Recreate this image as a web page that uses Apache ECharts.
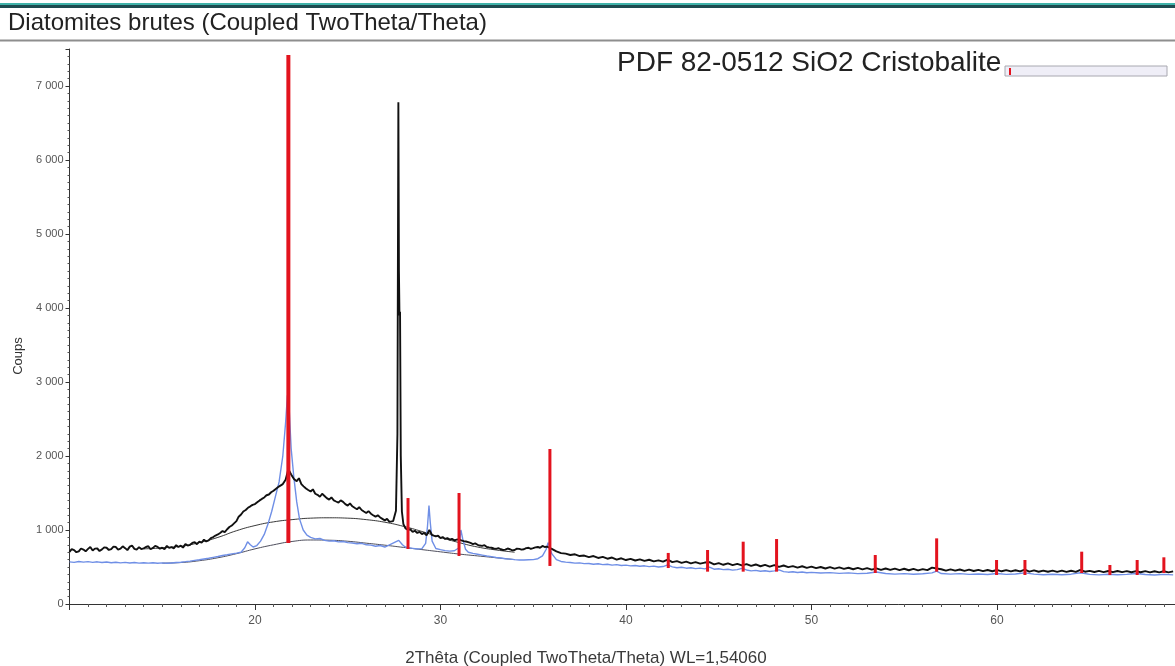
<!DOCTYPE html>
<html>
<head>
<meta charset="utf-8">
<script src="https://cdn.jsdelivr.net/npm/echarts@6/dist/echarts.min.js"></script>
<style>
html,body{margin:0;padding:0;background:#fff;}
#chart{width:1175px;height:666px;}
</style>
</head>
<body>
<div id="chart"></div>
<script>
// ---- Data (2Theta in degrees, intensity in counts) ----
const blackScan = [
[10,705],[10.12,742],[10.25,728],[10.37,700],[10.5,712],[10.62,750],[10.75,735],[10.87,712],[11,745],[11.12,770],[11.25,722],[11.37,748],
[11.5,750],[11.62,716],[11.75,738],[11.87,765],[12,760],[12.12,730],[12.25,742],[12.37,775],[12.5,770],[12.62,735],[12.75,748],[12.87,780],
[13,755],[13.12,728],[13.25,775],[13.37,790],[13.5,745],[13.62,735],[13.75,768],[13.87,742],[14,752],[14.12,770],[14.25,780],[14.37,740],
[14.5,758],[14.62,785],[14.75,772],[14.87,748],[15,760],[15.12,742],[15.25,785],[15.37,758],[15.5,770],[15.62,752],[15.75,795],[15.87,770],
[16,788],[16.12,762],[16.25,812],[16.37,790],[16.5,800],[16.62,825],[16.75,835],[16.87,808],[17,842],[17.12,828],[17.25,870],[17.37,845],
[17.5,860],[17.62,890],[17.75,905],[17.87,925],[18,940],[18.12,960],[18.25,985],[18.37,970],[18.5,1010],[18.62,1040],[18.75,1060],[18.87,1090],
[19,1120],[19.12,1180],[19.25,1210],[19.37,1250],[19.5,1270],[19.62,1300],[19.75,1320],[19.87,1340],[20,1350],[20.12,1375],[20.25,1400],
[20.37,1420],[20.5,1440],[20.62,1470],[20.75,1480],[20.87,1510],[21,1530],[21.12,1555],[21.25,1580],[21.37,1600],[21.5,1620],
[21.65,1680],[21.8,1820],[21.95,1750],[22.1,1690],[22.25,1660],[22.37,1700],[22.5,1620],[22.62,1590],[22.75,1560],[22.87,1540],[23,1520],
[23.12,1550],[23.25,1490],[23.37,1475],[23.5,1450],[23.62,1490],[23.75,1460],[23.87,1430],[24,1410],[24.12,1440],[24.25,1400],[24.37,1385],
[24.5,1370],[24.62,1400],[24.75,1380],[24.87,1350],[25,1330],[25.12,1360],[25.25,1320],[25.37,1300],[25.5,1280],[25.62,1310],[25.75,1270],
[25.87,1250],[26,1230],[26.12,1255],[26.25,1220],[26.37,1200],[26.5,1180],[26.62,1200],[26.75,1170],[26.87,1150],[27,1130],[27.12,1150],
[27.25,1110],[27.35,1100],[27.45,1120],[27.6,1260],[27.68,2300],[27.73,6780],[27.76,4500],[27.79,3900],[27.82,3950],
[27.86,2000],[27.92,1250],[28,1080],[28.12,1020],[28.25,1000],[28.37,1010],[28.5,975],[28.62,990],[28.75,960],[28.87,975],[29,945],[29.12,960],
[29.25,930],[29.4,1000],[29.55,930],[29.65,945],[29.75,915],[29.87,925],[30,890],[30.12,905],[30.25,880],[30.37,890],[30.5,870],[30.62,880],
[30.75,860],[30.87,870],[31,875],[31.12,860],[31.25,850],[31.37,845],[31.5,835],[31.62,825],[31.75,810],[31.87,820],[32,800],[32.12,790],
[32.25,785],[32.37,795],[32.5,770],[32.62,765],[32.75,760],[32.87,750],[33,745],[33.12,755],[33.25,740],[33.37,730],[33.5,735],[33.62,750],
[33.75,740],[33.87,725],[34,730],[34.12,748],[34.25,745],[34.37,735],[34.5,740],[34.62,755],[34.75,760],[34.87,745],[35,755],[35.12,765],
[35.25,770],[35.37,760],[35.5,785],[35.62,770],[35.75,775],[35.87,760],
[36,745],[36.25,712],[36.5,688],[36.75,680],[37,662],[37.25,672],[37.5,648],[37.75,655],[38,634],[38.25,648],[38.5,622],[38.75,636],
[39,612],[39.25,628],[39.5,600],[39.75,618],[40,594],[40.25,610],[40.5,588],[40.75,604],[41,582],[41.25,598],[41.5,576],[41.75,590],
[42,572],[42.25,600],[42.5,566],[42.75,580],[43,556],[43.25,572],[43.5,550],[43.75,566],[44,546],[44.25,560],[44.5,565],[44.75,535],
[45,552],[45.25,530],[45.5,548],[45.75,525],[46,542],[46.25,522],[46.5,540],[46.75,515],[47,534],[47.25,510],[47.5,528],[47.75,505],
[48,525],[48.25,502],[48.5,520],[48.75,498],[49,512],[49.25,492],[49.5,510],[49.75,488],[50,505],[50.25,484],[50.5,500],[50.75,480],
[51,498],[51.25,478],[51.5,494],[51.75,474],[52,490],[52.25,470],[52.5,488],[52.75,468],[53,484],[53.25,464],[53.5,482],[53.75,462],
[54,480],[54.25,460],[54.5,478],[54.75,458],[55,476],[55.25,456],[55.5,474],[55.75,455],[56,472],[56.25,458],[56.5,492],[56.75,480],
[57,470],[57.25,452],[57.5,468],[57.75,450],[58,466],[58.25,448],[58.5,464],[58.75,446],[59,462],[59.25,444],[59.5,460],[59.75,443],
[60,460],[60.25,442],[60.5,458],[60.75,440],[61,456],[61.25,440],[61.5,466],[61.75,438],[62,454],[62.25,436],[62.5,452],[62.75,436],
[63,451],[63.25,435],[63.5,450],[63.75,434],[64,449],[64.25,434],[64.5,462],[64.75,436],[65,448],[65.25,432],[65.5,447],[65.75,431],
[66,446],[66.25,430],[66.5,446],[66.75,430],[67,445],[67.25,429],[67.5,444],[67.75,429],[68,444],[68.25,428],[68.5,443],[68.75,428],
[69,442],[69.25,428],[69.5,440]
];

const blueScan = [
[10,570],[10.25,562],[10.5,575],[10.75,566],[11,572],[11.25,563],[11.5,570],[11.75,560],[12,568],[12.25,558],[12.5,565],[12.75,556],
[13,562],[13.25,555],[13.5,560],[13.75,553],[14,558],[14.25,552],[14.5,557],[14.75,550],[15,556],[15.25,550],[15.5,555],[15.75,560],
[16,565],[16.25,572],[16.5,580],[16.75,590],[17,598],[17.25,608],[17.5,618],[17.75,630],[18,642],[18.25,655],[18.5,665],[18.75,678],
[19,688],[19.25,700],[19.45,760],[19.6,840],[19.75,800],[19.9,770],[20.1,790],[20.3,850],[20.5,940],[20.7,1080],[20.9,1250],
[21.1,1450],[21.3,1650],[21.5,2000],[21.65,2450],[21.75,2820],[21.85,2600],[21.95,2100],[22.1,1700],[22.25,1380],[22.4,1150],
[22.6,1000],[22.8,930],[23,900],[23.25,880],[23.5,885],[23.75,860],[24,850],[24.25,855],[24.5,840],[24.75,845],[25,830],[25.25,825],
[25.5,815],[25.75,820],[26,800],[26.25,795],[26.5,780],[26.75,790],[27,770],[27.25,800],[27.5,830],[27.75,860],[27.95,800],
[28.1,770],[28.25,760],[28.5,752],[28.75,744],[29,748],[29.2,820],[29.3,1050],[29.38,1330],[29.45,1100],[29.55,850],[29.75,750],
[30,735],[30.25,722],[30.5,714],[30.75,720],[31,760],[31.1,1000],[31.2,880],[31.35,740],[31.5,700],[31.75,684],[32,672],[32.25,660],
[32.5,648],[32.75,640],[33,628],[33.25,622],[33.5,612],[33.75,606],[34,600],[34.25,595],[34.5,594],[34.75,598],[35,600],[35.25,612],
[35.5,650],[35.7,740],[35.8,830],[35.9,760],[36,680],[36.25,600],[36.5,575],[36.75,566],[37,560],[37.25,552],[37.5,556],[37.75,545],
[38,548],[38.25,538],[38.5,544],[38.75,532],[39,538],[39.25,526],[39.5,532],[39.75,520],[40,526],[40.25,515],[40.5,520],[40.75,510],
[41,516],[41.25,505],[41.5,512],[41.75,500],[42,506],[42.25,528],[42.5,502],[42.75,490],[43,496],[43.25,484],[43.5,490],[43.75,478],
[44,485],[44.25,475],[44.5,498],[44.75,470],[45,476],[45.25,465],[45.5,470],[45.75,458],[46,465],[46.25,482],[46.5,460],[46.75,448],
[47,455],[47.25,443],[47.5,450],[47.75,440],[48,448],[48.25,462],[48.5,438],[48.75,430],[49,436],[49.25,426],[49.5,432],[49.75,422],
[50,428],[50.5,418],[51,424],[51.5,414],[52,420],[52.5,410],[53,416],[53.5,432],[54,412],[54.5,404],[55,410],[55.5,402],[56,408],
[56.5,420],[56.75,445],[57,412],[57.5,404],[58,410],[58.5,400],[59,406],[59.5,398],[60,412],[60.5,400],[61,406],[61.5,420],[62,404],
[62.5,396],[63,402],[63.5,395],[64,403],[64.5,422],[65,400],[65.5,394],[66,402],[66.5,395],[67,400],[67.5,412],[68,398],[68.5,392],
[69,400],[69.5,394]
];

const blackBackground = [
[14,745],[16,780],[17,830],[18,900],[19,990],[20,1060],[21,1110],[22,1140],[23,1160],[24,1165],[25,1160],[26,1140],[27,1105],
[28,1050],[29,980],[30,900],[31,830],[32,770],[33,730],[34,700]
];

const blueBackground = [
[15,552],[16,560],[17,585],[18,625],[19,680],[20,745],[21,800],[22,845],[23,865],[24,862],[25,848],[26,822],[27,795],[28,765],
[29,735],[30,705],[31,675],[32,650],[33,625],[34,600]
];

// Reference pattern: PDF 82-0512 SiO2 Cristobalite (stick position, stick base, stick top)
const stickPos  = [21.80, 28.25, 31.00, 35.90, 42.28, 44.40, 46.32, 48.12, 53.44, 56.75, 59.98, 61.51, 64.57, 66.09, 67.56, 69.00];
const stickBase = [824, 743, 649, 514, 486, 437, 437, 437, 419, 437, 392, 392, 419, 392, 392, 419];
const stickTop  = [7420, 1432, 1500, 2095, 690, 730, 842, 878, 662, 887, 595, 595, 707, 527, 595, 631];

const yTicks = [0, 1000, 2000, 3000, 4000, 5000, 6000, 7000];
const xTickLabels = [20, 30, 40, 50, 60];

const titleText = 'Diatomites brutes (Coupled TwoTheta/Theta)';
const legendText = 'PDF 82-0512 SiO2 Cristobalite';
const xName = '2Thêta (Coupled TwoTheta/Theta) WL=1,54060';
const yName = 'Coups';

// ---- Chart ----
const chart = echarts.init(document.getElementById('chart'), null, {renderer: 'canvas'});
const FONT = '"Liberation Sans", Arial, sans-serif';

const sticks = stickPos.map((x, i) => [x, stickBase[i], stickTop[i]]);

chart.setOption({
  animation: false,
  backgroundColor: '#ffffff',
  grid: {left: 69.5, right: 0, top: 49, bottom: 62, containLabel: false},
  xAxis: {
    type: 'value', min: 10, max: 69.6, interval: 10,
    axisLine: {show: true, lineStyle: {color: '#333', width: 1}},
    axisTick: {show: true, length: 6, lineStyle: {color: '#333'}},
    minorTick: {show: true, splitNumber: 10, length: 3, lineStyle: {color: '#555'}},
    splitLine: {show: false},
    axisLabel: {
      color: '#555', fontSize: 12, fontFamily: FONT, margin: 11,
      showMinLabel: false, showMaxLabel: false,
      formatter: v => (xTickLabels.indexOf(v) >= 0 ? String(v) : '')
    }
  },
  yAxis: {
    type: 'value', min: 0, max: 7500, interval: 1000,
    axisLine: {show: true, lineStyle: {color: '#333', width: 1}},
    axisTick: {show: true, length: 4, lineStyle: {color: '#333'}},
    minorTick: {show: true, splitNumber: 10, length: 2, lineStyle: {color: '#555'}},
    splitLine: {show: false},
    axisLabel: {
      color: '#555', fontSize: 11, fontFamily: FONT, margin: 6,
      showMaxLabel: false,
      formatter: v => (yTicks.indexOf(v) >= 0 ? (v === 0 ? '0' : (v / 1000) + ' 000') : '')
    }
  },
  series: [
    {type: 'line', data: blueBackground, showSymbol: false, smooth: true, z: 1,
     lineStyle: {color: '#3a3a4a', width: 0.9}},
    {type: 'line', data: blackBackground, showSymbol: false, smooth: true, z: 1,
     lineStyle: {color: '#222', width: 0.9}},
    {type: 'line', data: blueScan, showSymbol: false, z: 2,
     lineStyle: {color: '#6f8fe6', width: 1.4}},
    {type: 'line', data: blackScan, showSymbol: false, z: 3,
     lineStyle: {color: '#111', width: 1.9}},
    {type: 'custom', z: 5, data: sticks, encode: {x: 0, y: [1, 2]},
     renderItem: (params, api) => {
       const p0 = api.coord([api.value(0), api.value(1)]);
       const p1 = api.coord([api.value(0), api.value(2)]);
       return {type: 'line', shape: {x1: p0[0], y1: p0[1], x2: p1[0], y2: p1[1]},
               style: {stroke: '#e3131e', lineWidth: params.dataIndex === 0 ? 4 : 3}};
     }}
  ],
  graphic: [
    {type: 'rect', shape: {x: 0, y: 3, width: 1175, height: 2}, style: {fill: '#3fb3aa'}, silent: true},
    {type: 'rect', shape: {x: 0, y: 5, width: 1175, height: 3}, style: {fill: '#1d4b50'}, silent: true},
    {type: 'text', x: 8, y: 23, style: {text: titleText, fill: '#222', font: '24px ' + FONT, verticalAlign: 'middle'}},
    {type: 'rect', shape: {x: 0, y: 39.5, width: 1175, height: 2}, style: {fill: '#8e8e8e'}, silent: true},
    {type: 'text', x: 617, y: 63, style: {text: legendText, fill: '#222', font: '28px ' + FONT, verticalAlign: 'middle'}},
    {type: 'rect', shape: {x: 1005, y: 66, width: 162, height: 10}, style: {fill: '#efeef7', stroke: '#a8a8b0', lineWidth: 1}},
    {type: 'rect', shape: {x: 1009, y: 68, width: 2, height: 7}, style: {fill: '#e3131e'}},
    {type: 'text', x: 586, y: 658, style: {text: xName, fill: '#3a3a3a', font: '17px ' + FONT, align: 'center', verticalAlign: 'middle'}},
    {type: 'text', x: 18, y: 356, rotation: Math.PI / 2, style: {text: yName, fill: '#333', font: '13px ' + FONT, align: 'center', verticalAlign: 'middle'}}
  ]
});
</script>
</body>
</html>
